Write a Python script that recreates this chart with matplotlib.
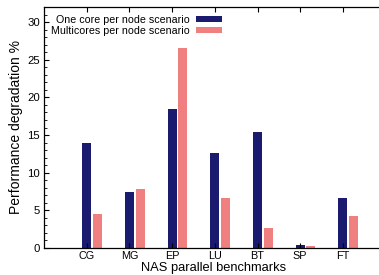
import matplotlib
matplotlib.use("Agg")
import matplotlib.pyplot as plt
import numpy as np
from matplotlib.patches import Patch
from matplotlib.ticker import MultipleLocator

categories = ["CG", "MG", "EP", "LU", "BT", "SP", "FT"]
one_core = [14.0, 7.5, 18.5, 12.55, 15.45, 0.4, 6.6]
multi_core = [4.5, 7.9, 26.55, 6.6, 2.65, 0.25, 4.2]
series_labels = ["One core per node scenario", "Multicores per node scenario"]
colors = ["#1a1a6e", "#f08080"]

plt.rcParams['font.family'] = ['Liberation Sans', 'DejaVu Sans']

W, H = 379, 275
fig = plt.figure(figsize=(W/100, H/100), dpi=100)
left, right_px, top, bottom = 44, 44 + 8*42.7, 7, 248
ax = fig.add_axes([left/W, (H-bottom)/H, (right_px-left)/W, (bottom-top)/H])

x = np.arange(1, len(categories)+1)
w = 0.21
ax.bar(x, one_core, width=w, color=colors[0], linewidth=0)
ax.bar(x + 0.25, multi_core, width=w, color=colors[1], linewidth=0)

ax.set_xlim(0, 8)
ax.set_ylim(0, 32)
ax.set_xticks(x)
ax.set_xticklabels(categories, fontsize=7.8)
ax.yaxis.set_major_locator(MultipleLocator(5))
ax.yaxis.set_minor_locator(MultipleLocator(1))
ax.tick_params(axis='y', which='major', direction='in', length=3.5, labelsize=8.2, pad=3, right=False)
ax.tick_params(axis='y', which='minor', direction='in', length=2, right=False)
ax.tick_params(axis='x', which='major', direction='in', length=3.5, top=True, pad=2)
for s in ax.spines.values():
    s.set_linewidth(0.9)

ax.set_ylabel("Performance degradation %", fontsize=10, labelpad=3)
fig.text(214 / W, 0.5 / H, "NAS parallel benchmarks", fontsize=9.3,
         ha='center', va='bottom')

handles = [Patch(facecolor=c, edgecolor='none') for c in colors]
leg = fig.legend(handles, series_labels, loc='upper right',
                 bbox_to_anchor=(222/W, (H-15)/H), frameon=False,
                 markerfirst=False, fontsize=7.7, handlelength=2.45,
                 handleheight=0.55, handletextpad=0.6, labelspacing=0.05,
                 borderpad=0, borderaxespad=0)
for t in leg.get_texts():
    t.set_ha('right')

fig.savefig("out.png", dpi=100)
